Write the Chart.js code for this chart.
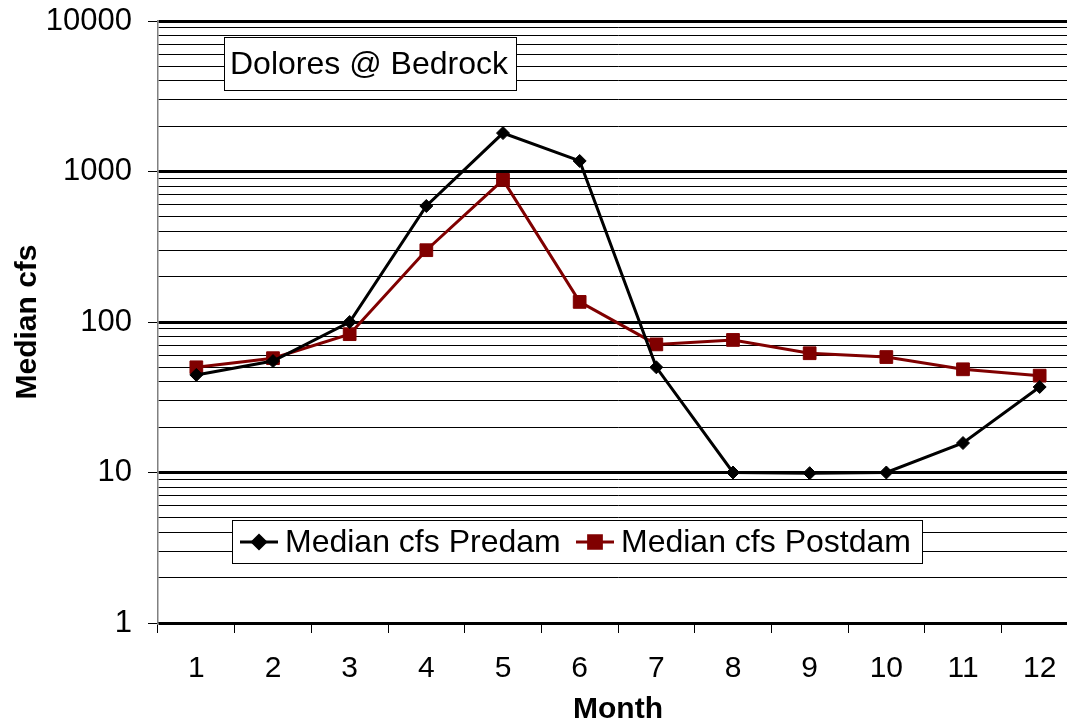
<!DOCTYPE html>
<html>
  <head>
    <title>Dolores @ Bedrock</title>
    <script src="https://cdn.jsdelivr.net/npm/chart.js"></script>
    <style>
      body { margin: 0; overflow: hidden; background: #fff; }
    </style>
  </head>
  <body>
    <canvas id="flowChart" width="1088" height="723"></canvas>
    <script>
      // Data
      const months = ["1", "2", "3", "4", "5", "6", "7", "8", "9", "10", "11", "12"];
      const predam = [44.5, 55, 100, 590, 1800, 1175, 50, 10, 9.9, 10, 15.7, 37];
      const postdam = [50, 57.5, 83, 300, 880, 136, 71, 76, 62, 58.5, 48.5, 44];
      const decades = [1, 10, 100, 1000, 10000];
      const yTicks = [];
      decades.forEach((d) => {
        for (let m = 1; m < 10; m++) {
          if (d * m <= 10000) yTicks.push(d * m);
        }
      });

      const fontFamily = "'Liberation Sans', Arial, sans-serif";

      // Title box and legend box drawn inside the plot
      const boxesPlugin = {
        id: "boxes",
        afterDraw(chart) {
          const ctx = chart.ctx;
          ctx.save();
          // title box
          ctx.fillStyle = "#fff";
          ctx.strokeStyle = "#000";
          ctx.lineWidth = 1;
          ctx.fillRect(224, 37, 292, 53);
          ctx.strokeRect(224.5, 37.5, 292, 53);
          ctx.fillStyle = "#000";
          ctx.font = "32px " + fontFamily;
          ctx.textBaseline = "middle";
          ctx.fillText("Dolores @ Bedrock", 230, 65);

          // legend box
          ctx.fillStyle = "#fff";
          ctx.fillRect(232, 520, 690, 43);
          ctx.strokeRect(232.5, 520.5, 690, 43);
          const items = [
            { ds: chart.data.datasets[0], x: 240 },
            { ds: chart.data.datasets[1], x: 576 },
          ];
          items.forEach(({ ds, x }) => {
            const y = 542;
            ctx.strokeStyle = ds.borderColor;
            ctx.lineWidth = ds.borderWidth;
            ctx.beginPath();
            ctx.moveTo(x, y);
            ctx.lineTo(x + 38, y);
            ctx.stroke();
            ctx.fillStyle = ds.pointBackgroundColor;
            ctx.strokeStyle = ds.pointBorderColor;
            Chart.helpers.drawPoint(
              ctx,
              {
                pointStyle: ds.pointStyle,
                radius: ds.pointRadius,
                rotation: 0,
                borderWidth: 1,
              },
              x + 19,
              y
            );
            ctx.fillStyle = "#000";
            ctx.font = "32px " + fontFamily;
            ctx.textBaseline = "middle";
            ctx.fillText(ds.label, x + 45, y + 1);
          });
          ctx.restore();
        },
      };

      const ctx = document.getElementById("flowChart").getContext("2d");

      new Chart(ctx, {
        type: "line",
        data: {
          labels: months,
          datasets: [
            {
              label: "Median cfs Predam",
              data: predam,
              borderColor: "#000000",
              backgroundColor: "#000000",
              borderWidth: 3,
              pointStyle: "rectRot",
              pointRadius: 6.5,
              pointBackgroundColor: "#000000",
              pointBorderColor: "#000000",
              pointBorderWidth: 1,
              tension: 0,
            },
            {
              label: "Median cfs Postdam",
              data: postdam,
              borderColor: "#800000",
              backgroundColor: "#800000",
              borderWidth: 3,
              pointStyle: "rect",
              pointRadius: 9,
              pointBackgroundColor: "#800000",
              pointBorderColor: "#800000",
              pointBorderWidth: 1,
              tension: 0,
            },
          ],
        },
        options: {
          responsive: false,
          animation: false,
          devicePixelRatio: 1,
          layout: {
            padding: { top: 21, right: 2, left: 0, bottom: 0 },
          },
          plugins: {
            legend: { display: false },
            tooltip: { enabled: false },
          },
          scales: {
            x: {
              type: "category",
              offset: true,
              grid: {
                offset: true,
                drawOnChartArea: false,
                drawTicks: true,
                tickLength: 10,
                tickColor: "#000",
                tickWidth: 1,
              },
              border: { color: "#000", width: 1.5 },
              ticks: {
                color: "#000",
                padding: 18,
                maxRotation: 0,
                font: { family: fontFamily, size: 30 },
              },
              title: {
                display: true,
                text: "Month",
                color: "#000",
                font: { family: fontFamily, size: 30, weight: "bold" },
                padding: { top: 0, bottom: -5 },
              },
              afterFit(scale) {
                scale.height = 100;
              },
            },
            y: {
              type: "logarithmic",
              min: 1,
              max: 10000,
              afterBuildTicks(scale) {
                scale.ticks = yTicks.map((v) => ({ value: v, major: decades.includes(v) }));
              },
              afterFit(scale) {
                scale.width = 158;
                scale.paddingTop = 0;
                scale.paddingBottom = 0;
              },
              grid: {
                color: "#000",
                lineWidth: (c) => (c.tick && decades.includes(c.tick.value) ? 3 : 1),
                tickLength: 10,
                tickColor: (c) => (c.tick && decades.includes(c.tick.value) ? "#000" : "rgba(0,0,0,0)"),
                tickWidth: 1,
              },
              border: { color: "#808080", width: 1.5 },
              ticks: {
                autoSkip: false,
                color: "#000",
                padding: 16,
                font: { family: fontFamily, size: 31 },
                callback: (value) => (decades.includes(value) ? String(value) : ""),
              },
              title: {
                display: true,
                text: "Median cfs",
                color: "#000",
                font: { family: fontFamily, size: 30, weight: "bold" },
                padding: { top: 10, bottom: 0 },
              },
            },
          },
        },
        plugins: [boxesPlugin],
      });
    </script>
  </body>
</html>
